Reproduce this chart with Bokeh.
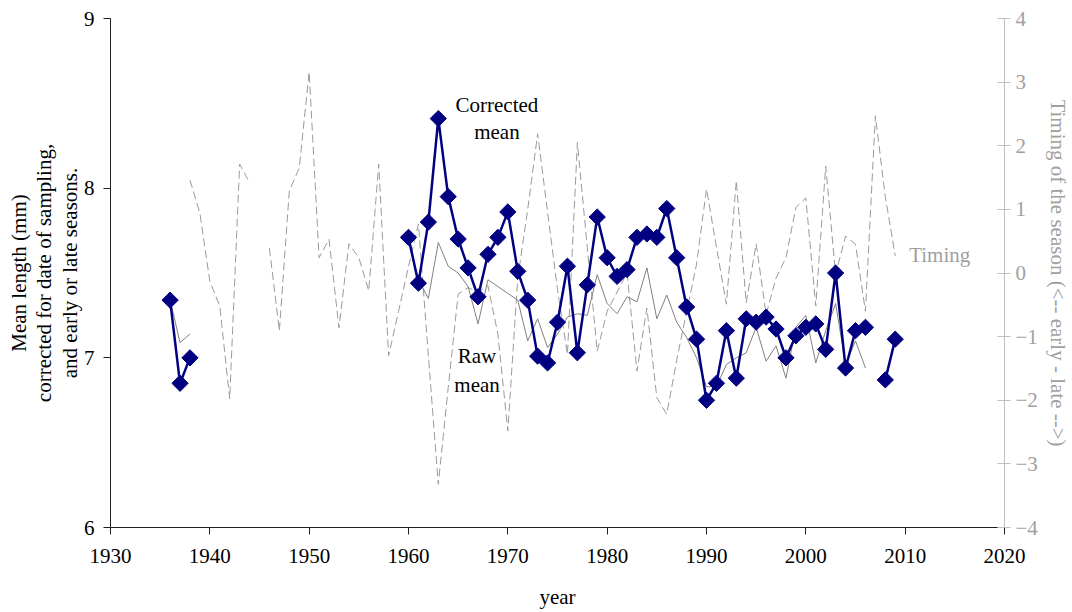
import numpy as np
from bokeh.plotting import figure
from bokeh.models import Range1d, LinearAxis, FixedTicker, Label, ColumnDataSource
from bokeh.embed import file_html
from bokeh.resources import INLINE

nan = np.nan

years = list(range(1936, 2010))

corrected = [7.34, 6.85, 7.00] + [nan] * 21 + [
    7.71, 7.44, 7.80, 8.41, 7.95, 7.70, 7.53, 7.36, 7.61, 7.71,
    7.86, 7.51, 7.34, 7.01, 6.97, 7.21, 7.54, 7.03, 7.43, 7.83,
    7.59, 7.48, 7.52, 7.71, 7.73, 7.71, 7.88, 7.59, 7.30, 7.11,
    6.75, 6.85, 7.16, 6.88, 7.23, 7.21, 7.24, 7.17, 7.00, 7.13,
    7.18, 7.20, 7.05, 7.50, 6.94, 7.16, 7.18, nan, 6.87, 7.11]

raw = [7.34, 7.09, 7.14] + [nan] * 21 + [
    7.68, 7.46, 7.35, 7.68, 7.54, 7.50, 7.42, 7.20, 7.46, 7.42,
    7.38, 7.34, 7.10, 7.23, 7.06, 7.14, 7.24, 7.26, 7.25, 7.49,
    7.32, 7.26, 7.36, 7.33, 7.53, 7.23, 7.37, 7.21, 7.12, 7.00,
    6.83, 6.83, 6.96, 7.00, 7.03, 7.18, 6.98, 7.07, 6.88, 7.18,
    7.25, 6.97, 7.16, 7.32, 6.96, 7.10, 6.94, nan, nan, nan]

timing = [nan, nan,
    1.46, 0.94, -0.13, -0.52, -1.98, 1.71, 1.42, nan, 0.39, -0.91,
    1.29, 1.65, 3.16, 0.24, 0.53, -0.86, 0.46, 0.24, -0.28, 1.71,
    -1.30, -0.60, 0.10, 0.77, -1.30, -3.32, -1.80, -0.33, -0.23, -0.30,
    -0.20, -0.96, -2.48, -0.08, 1.00, 2.19, 0.96, -0.26, -1.28, 2.05,
    0.40, -1.23, -0.60, -0.30, 0.00, -1.54, -0.55, -1.96, -2.22, -1.37,
    -0.61, 0.14, 1.32, 0.41, -0.49, 1.45, -0.47, 0.46, -0.65, -0.08,
    0.24, 1.03, 1.18, -0.52, 1.68, -0.02, 0.58, 0.45, -0.60, 2.47,
    1.20, 0.27]

x_ticks = list(range(1930, 2021, 10))
y_ticks = [6, 7, 8, 9]
t_ticks = list(range(-4, 5))

SERIF = "Liberation Serif"
FS = "21px"

src = ColumnDataSource(dict(year=years, corrected=corrected, raw=raw, timing=timing))

p = figure(width=1072, height=612, output_backend="svg", toolbar_location=None,
           x_range=Range1d(1930, 2020), y_range=Range1d(6, 9),
           min_border_left=110, min_border_right=67, min_border_top=18, min_border_bottom=85)
p.outline_line_color = None
p.xgrid.visible = False
p.ygrid.visible = False
p.background_fill_color = "white"
p.border_fill_color = "white"

p.extra_y_ranges = {"timing": Range1d(-4, 4)}

# timing (dashed, right axis)
p.line("year", "timing", source=src, y_range_name="timing", line_color="#9a9a9a",
       line_width=1, line_dash="8 4")
# raw mean
p.line("year", "raw", source=src, line_color="#808080", line_width=1)
# corrected mean
p.line("year", "corrected", source=src, line_color="#000080", line_width=2.5)
p.scatter("year", "corrected", source=src, marker="square", angle=np.pi / 4, size=11.5,
          fill_color="#000080", line_color="#000080")

# axes styling
xa = p.xaxis[0]
xa.ticker = FixedTicker(ticks=x_ticks)
xa.axis_label = "year"
ya = p.yaxis[0]
ya.ticker = FixedTicker(ticks=y_ticks)
ya.axis_label = "Mean length (mm)\ncorrected for date of sampling,\nand early or late seasons."

for ax in (xa, ya):
    ax.minor_tick_line_color = None
    ax.major_tick_in = 0
    ax.major_tick_out = 7
    ax.axis_line_color = "#202020"
    ax.major_tick_line_color = "#202020"
    ax.major_label_text_font = SERIF
    ax.major_label_text_font_size = FS
    ax.major_label_text_color = "black"
    ax.axis_label_text_font = SERIF
    ax.axis_label_text_font_size = FS
    ax.axis_label_text_font_style = "normal"
    ax.axis_label_text_color = "black"

xa.major_label_standoff = 14
xa.axis_label_standoff = 19
ya.major_label_standoff = 9
ya.axis_label_standoff = -1
ya.axis_label_text_line_height = 1.07

ra = LinearAxis(y_range_name="timing", ticker=FixedTicker(ticks=t_ticks),
                axis_label="Timing of the season (<-- early - late -->)")
ra.minor_tick_line_color = None
ra.major_tick_in = 7
ra.major_tick_out = 6
ra.axis_line_color = "#c0c0c0"
ra.major_tick_line_color = "#c0c0c0"
ra.major_label_text_font = SERIF
ra.major_label_text_font_size = FS
ra.major_label_text_color = "#a0a0a0"
ra.axis_label_text_font = SERIF
ra.axis_label_text_font_size = FS
ra.axis_label_text_font_style = "normal"
ra.axis_label_text_color = "#a0a0a0"
ra.major_label_standoff = 5
ra.axis_label_standoff = 5
p.add_layout(ra, "right")

# annotations
notes = [
    ("Corrected", 1968.9, 8.49, "default", "black", "center"),
    ("mean", 1968.9, 8.33, "default", "black", "center"),
    ("Raw", 1966.9, 7.01, "default", "black", "center"),
    ("mean", 1966.9, 6.84, "default", "black", "center"),
    ("Timing", 2010.4, 0.28, "timing", "#a0a0a0", "left"),
]
for txt, x, y, rng, col, align in notes:
    p.add_layout(Label(x=x, y=y, y_range_name=rng, text=txt, text_font=SERIF,
                       text_font_size=FS, text_color=col, text_align=align,
                       text_baseline="middle"))

open("out.html", "w").write(file_html(p, INLINE))
